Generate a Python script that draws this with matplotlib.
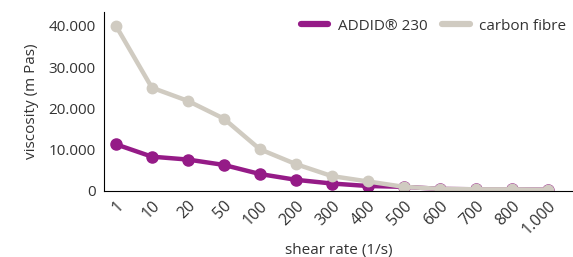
import numpy as np
import matplotlib.pyplot as plt

plt.rcParams['font.family'] = ['Open Sans', 'DejaVu Sans']

shear_rate = ["1", "10", "20", "50", "100", "200", "300", "400",
              "500", "600", "700", "800", "1.000"]
addid_230 = [11300, 8300, 7600, 6300, 4100, 2700, 1800, 1200,
             1000, 500, 400, 400, 300]
carbon_fibre = [40000, 25000, 21800, 17500, 10100, 6500, 3600, 2300,
                1000, 500, 400, 400, 300]
y_ticks = [0, 10000, 20000, 30000, 40000]
y_tick_labels = ["0", "10.000", "20.000", "30.000", "40.000"]

purple = "#951B87"
beige = "#D0CBC1"
text_col = "#333333"

fig = plt.figure(figsize=(5.73, 2.57), dpi=100)
ax = fig.add_axes([0.1815, 0.257, 0.8185, 0.696])

x = np.arange(len(shear_rate))
ax.plot(x, addid_230, color=purple, lw=3.2, marker="o", ms=8,
        label="ADDID\u00ae 230", solid_capstyle="round")
ax.plot(x, carbon_fibre, color=beige, lw=3.2, marker="o", ms=7.5,
        label="carbon fibre", solid_capstyle="round")

ax.set_xlim(-0.33, 12.7)
ax.set_ylim(0, 43300)
ax.set_xticks(x)
ax.set_xticklabels(shear_rate, rotation=45, ha="right", va="top",
                   rotation_mode="anchor", fontsize=11.5, color=text_col)
ax.set_yticks(y_ticks)
ax.set_yticklabels(y_tick_labels, fontsize=11, color=text_col)
ax.tick_params(length=0, pad=6)
ax.tick_params(axis="x", pad=5)

for s in ("top", "right"):
    ax.spines[s].set_visible(False)

ax.set_ylabel("viscosity (m Pas)", fontsize=11, color=text_col, labelpad=7)
ax.set_xlabel("shear rate (1/s)", fontsize=11, color=text_col, labelpad=4)

leg = ax.legend(loc="upper right", ncol=2, frameon=False, fontsize=11,
                handlelength=1.8, columnspacing=1.0, handletextpad=0.6,
                bbox_to_anchor=(1.015, 1.04))
for h in leg.legend_handles:
    h.set_marker("")
    h.set_linewidth(4.5)
for t in leg.get_texts():
    t.set_color(text_col)

fig.savefig("out.png", dpi=100)
plt.close(fig)
